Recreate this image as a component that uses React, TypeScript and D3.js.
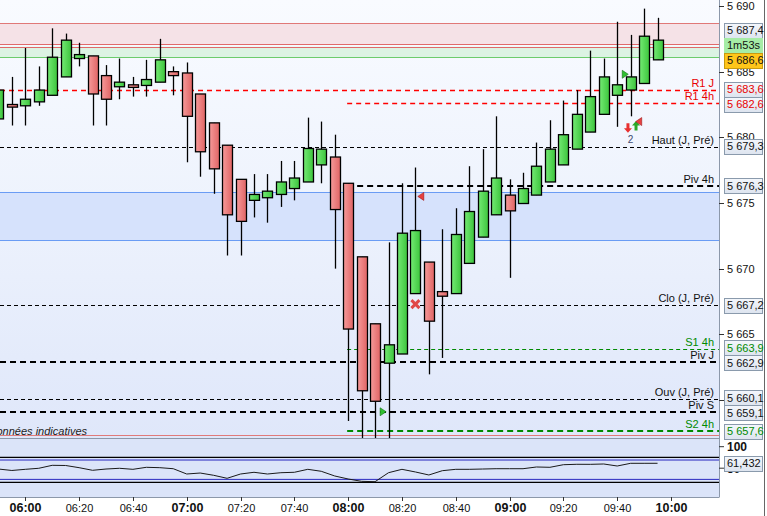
import { useEffect, useRef } from "react";
import * as d3 from "d3";

// 5-minute candles
const times = [
  "05:50", "05:55", "06:00", "06:05", "06:10", "06:15", "06:20", "06:25", "06:30", "06:35",
  "06:40", "06:45", "06:50", "06:55", "07:00", "07:05", "07:10", "07:15", "07:20", "07:25",
  "07:30", "07:35", "07:40", "07:45", "07:50", "07:55", "08:00", "08:05", "08:10", "08:15",
  "08:20", "08:25", "08:30", "08:35", "08:40", "08:45", "08:50", "08:55", "09:00", "09:05",
  "09:10", "09:15", "09:20", "09:25", "09:30", "09:35", "09:40", "09:45", "09:50", "09:55",
];
const opens = [
  5681.4, 5682.5, 5682.4, 5682.7, 5683.2, 5684.6, 5686.0, 5686.2, 5684.7, 5683.85,
  5684.0, 5683.95, 5684.2, 5685.0, 5684.9, 5683.3, 5681.1, 5679.4, 5676.8, 5675.2,
  5675.4, 5675.65, 5676.1, 5676.6, 5677.9, 5678.5, 5676.5, 5670.9, 5665.8, 5662.8,
  5663.5, 5668.1, 5670.5, 5668.25, 5668.1, 5670.4, 5672.4, 5674.1, 5675.6, 5674.96,
  5675.6, 5676.6, 5677.9, 5679.1, 5680.4, 5681.75, 5683.2, 5683.6, 5684.1, 5685.9,
];
const highs = [
  5683.9, 5684.6, 5686.8, 5685.4, 5688.3, 5687.9, 5687.2, 5686.2, 5685.5, 5686.0,
  5684.6, 5685.9, 5687.5, 5685.4, 5685.7, 5683.3, 5681.1, 5679.4, 5676.8, 5677.2,
  5677.2, 5678.2, 5678.2, 5681.5, 5681.2, 5680.2, 5676.5, 5670.9, 5665.8, 5672.0,
  5676.5, 5677.7, 5670.5, 5673.0, 5674.6, 5677.8, 5679.1, 5681.6, 5676.8, 5677.3,
  5679.6, 5681.3, 5682.8, 5683.6, 5686.6, 5686.0, 5688.8, 5687.8, 5689.8, 5689.1,
];
const lows = [
  5681.0, 5680.9, 5680.9, 5682.4, 5683.2, 5684.6, 5685.4, 5680.9, 5680.9, 5682.9,
  5683.1, 5683.1, 5684.2, 5683.2, 5678.1, 5677.0, 5675.7, 5671.0, 5671.0, 5673.9,
  5673.5, 5674.7, 5675.2, 5676.6, 5676.5, 5670.0, 5658.4, 5656.5, 5656.5, 5656.5,
  5663.5, 5668.1, 5661.95, 5663.2, 5668.1, 5670.4, 5672.4, 5674.1, 5669.3, 5674.96,
  5675.6, 5676.6, 5677.9, 5679.1, 5680.4, 5681.75, 5680.8, 5681.6, 5684.1, 5685.9,
];
const closes = [
  5683.6, 5682.3, 5682.9, 5683.6, 5686.1, 5687.4, 5686.3, 5683.3, 5682.9, 5684.2,
  5683.8, 5684.4, 5685.9, 5684.7, 5681.6, 5678.9, 5677.6, 5674.1, 5673.6, 5675.65,
  5675.9, 5676.6, 5676.9, 5679.15, 5679.1, 5674.5, 5665.4, 5660.7, 5659.9, 5664.2,
  5672.7, 5672.9, 5666.0, 5667.9, 5672.6, 5674.35, 5675.9, 5676.9, 5674.4, 5676.1,
  5677.8, 5679.1, 5680.2, 5681.75, 5683.1, 5684.6, 5684.0, 5684.6, 5687.7, 5687.4,
];

// oscillator in the lower pane
const oscValues = [
  48.1, 44.7, 47.4, 49.8, 56.7, 56.3, 51.2, 45.1, 48.1, 49.8,
  47.4, 52.1, 51.2, 48.8, 36.5, 38.8, 33.5, 26.5, 36.5, 40.5,
  36.5, 39.5, 40.5, 47.4, 42.8, 31.9, 24.9, 19.5, 18.6, 39.5,
  47.4, 41.2, 34.2, 44.2, 47.4, 47.4, 48.1, 48.8, 48.8, 48.8,
  52.8, 52.1, 58.1, 59.1, 59.0, 59.8, 55.1, 61.4, 61.4, 61.432,
];
const oscOuterLevels = [75, 17];
const oscInnerLevels = [69, 24];
const oscTicks = [50, 100];

// pivot / session levels
const levelLabels = ["R1 J", "R1 4h", "Haut (J, Pré)", "Piv 4h", "Clo (J, Pré)", "S1 4h", "Piv J", "Ouv (J, Pré)", "Piv S", "S2 4h"];
const levelValues = [5683.6, 5682.6, 5679.3, 5676.3, 5667.2, 5663.9, 5662.9, 5660.1, 5659.1, 5657.6];
const levelSince = [null, "08:00", null, "08:00", null, "08:00", null, null, null, "08:00"];

const resistZone = [5688.7, 5687.1];
const supportZone = [5686.9, 5686.1];
const blueZone = [5675.8, 5672.15];
const lowLine = 5657.3;

const lastPrice = 5687.4;
const otherPrice = 5686.6;
const countdown = "1m53s";

const priceTicks = [5660, 5665, 5670, 5675, 5680, 5685, 5690];
const timeTicks = ["06:00", "06:20", "06:40", "07:00", "07:20", "07:40", "08:00", "08:20", "08:40", "09:00", "09:20", "09:40", "10:00"];

const markerTimes = ["08:27", "08:25", "08:13", "09:43", "09:44", "09:47", "09:48"];
const markerPrices = [5675.5, 5667.3, 5659.1, 5684.8, 5680.7, 5680.9, 5681.2];
const markerKinds = ["triLeftRed", "cross", "triRightGreen", "triRightGreen", "arrowDown", "arrowUp", "triLeftRed"];

const LEVEL_STYLE: Record<string, { color: string; text: string; width: number; dash: string }> = {
  "R1 J": { color: "#ff0000", text: "#e80000", width: 1.3, dash: "5,4" },
  "R1 4h": { color: "#ff0000", text: "#e80000", width: 1.3, dash: "5,4" },
  "Haut (J, Pré)": { color: "#000", text: "#111", width: 1, dash: "4,3" },
  "Piv 4h": { color: "#000", text: "#111", width: 2, dash: "6,4" },
  "Clo (J, Pré)": { color: "#000", text: "#111", width: 1, dash: "4,3" },
  "S1 4h": { color: "#008a00", text: "#008a00", width: 1, dash: "4,3" },
  "Piv J": { color: "#000", text: "#111", width: 2, dash: "6,4" },
  "Ouv (J, Pré)": { color: "#000", text: "#111", width: 1, dash: "4,3" },
  "Piv S": { color: "#000", text: "#111", width: 2, dash: "6,4" },
  "S2 4h": { color: "#008a00", text: "#008a00", width: 2, dash: "6,4" },
};

const W = 767;
const H = 516;
const PLOT_R = 719;
const PRICE_B = 438;
const OSC_B = 497;
const FONT = "'Liberation Sans', Arial, sans-serif";

const toMin = (t: string) => {
  const [h, m] = t.split(":").map(Number);
  return h * 60 + m;
};
const fmt = (v: number) => {
  const s = v.toFixed(1).replace(".", ",");
  return s.replace(/^(\d)(\d{3})/, "$1 $2");
};

export default function App() {
  const svgRef = useRef<SVGSVGElement>(null);

  useEffect(() => {
    if (!svgRef.current) return;
    const svg = d3.select(svgRef.current);
    svg.selectAll("*").remove();

    const x = d3.scaleLinear().domain([360, 600]).range([25.3, 671]);
    const y = d3.scaleLinear().domain([5665, 5690]).range([334.3, 6]);
    const yo = d3.scaleLinear().domain([0, 100]).range([489.7, 446.7]);

    const defs = svg.append("defs");
    const bg = defs.append("linearGradient").attr("id", "bg").attr("x1", 0).attr("x2", 0).attr("y1", 0).attr("y2", 1);
    bg.append("stop").attr("offset", "0").attr("stop-color", "#f9fbff");
    bg.append("stop").attr("offset", "0.45").attr("stop-color", "#eef3fd");
    bg.append("stop").attr("offset", "1").attr("stop-color", "#dfe7fa");
    const gUp = defs.append("linearGradient").attr("id", "up");
    gUp.append("stop").attr("offset", "0").attr("stop-color", "#74ea74");
    gUp.append("stop").attr("offset", "1").attr("stop-color", "#3cc43c");
    const gDn = defs.append("linearGradient").attr("id", "dn");
    gDn.append("stop").attr("offset", "0").attr("stop-color", "#f69a9a");
    gDn.append("stop").attr("offset", "1").attr("stop-color", "#e06464");
    const gBox = defs.append("linearGradient").attr("id", "box").attr("x1", 0).attr("x2", 0).attr("y1", 0).attr("y2", 1);
    gBox.append("stop").attr("offset", "0").attr("stop-color", "#f4f7fc");
    gBox.append("stop").attr("offset", "1").attr("stop-color", "#dde4ef");
    defs.append("clipPath").attr("id", "clipP").append("rect").attr("x", 0).attr("y", 0).attr("width", PLOT_R).attr("height", PRICE_B);
    defs.append("clipPath").attr("id", "clipO").append("rect").attr("x", 0).attr("y", PRICE_B).attr("width", PLOT_R).attr("height", OSC_B - PRICE_B);

    svg.append("rect").attr("width", W).attr("height", H).attr("fill", "#fff");

    // price pane
    const p = svg.append("g").attr("clip-path", "url(#clipP)");
    p.append("rect").attr("width", PLOT_R).attr("height", PRICE_B).attr("fill", "url(#bg)");

    const band = (lo: number, hi: number, fill: string) =>
      p.append("rect").attr("x", 0).attr("width", PLOT_R).attr("y", y(hi)).attr("height", y(lo) - y(hi)).attr("fill", fill);
    const hline = (v: number, color: string, w = 1) =>
      p.append("line").attr("x1", 0).attr("x2", PLOT_R).attr("y1", Math.round(y(v)) + 0.5).attr("y2", Math.round(y(v)) + 0.5)
        .attr("stroke", color).attr("stroke-width", w);

    band(blueZone[1], blueZone[0], "#d6e2fc");
    hline(blueZone[0], "#6a9cf4");
    hline(blueZone[1], "#6a9cf4");
    band(resistZone[1], resistZone[0], "#f5e2e7");
    band(supportZone[1], supportZone[0], "#dcf3e3");
    hline(resistZone[0], "#e07878");
    hline(resistZone[1], "#e06a6a");
    hline(supportZone[0], "#e06a6a");
    hline(supportZone[1], "#6ccc6c");
    hline(lowLine, "#e07a7a");

    levelLabels.forEach((name, i) => {
      const st = LEVEL_STYLE[name];
      const since = levelSince[i];
      const x0 = since ? x(toMin(since)) - 1 : 0;
      const yy = Math.round(y(levelValues[i])) + (st.width === 2 ? 0 : 0.5);
      p.append("line").attr("x1", x0).attr("x2", PLOT_R).attr("y1", yy).attr("y2", yy)
        .attr("stroke", st.color).attr("stroke-width", st.width).attr("stroke-dasharray", st.dash);
    });

    // candles
    const bw = 10;
    times.forEach((t, i) => {
      const cx = Math.round(x(toMin(t))) + 0.5;
      const o = opens[i], c = closes[i];
      const up = c >= o;
      p.append("line").attr("x1", cx).attr("x2", cx).attr("y1", y(highs[i])).attr("y2", y(lows[i]))
        .attr("stroke", "#000").attr("stroke-width", 1.3);
      const top = y(Math.max(o, c));
      const h = Math.max(2, y(Math.min(o, c)) - top);
      p.append("rect").attr("x", cx - bw / 2).attr("y", top).attr("width", bw).attr("height", h)
        .attr("fill", up ? "url(#up)" : "url(#dn)").attr("stroke", "#000").attr("stroke-width", 1.3);
    });

    // signal markers
    markerKinds.forEach((k, i) => {
      const mx = x(toMin(markerTimes[i]));
      const my = y(markerPrices[i]);
      const g = p.append("g").attr("transform", `translate(${mx},${my})`);
      if (k === "triLeftRed") g.append("path").attr("d", "M3,-4L3,4L-3,0Z").attr("fill", "#e84040").attr("stroke", "#a01818").attr("stroke-width", 0.6);
      if (k === "triRightGreen") g.append("path").attr("d", "M-3,-4L-3,4L3,0Z").attr("fill", "#30c030").attr("stroke", "#107010").attr("stroke-width", 0.6);
      if (k === "cross") {
        g.append("path").attr("d", "M-4,-4L4,4M4,-4L-4,4").attr("stroke", "#e04848").attr("stroke-width", 3);
      }
      if (k === "arrowDown") g.append("path").attr("d", "M-1.5,-5L1.5,-5L1.5,0L4,0L0,4.5L-4,0L-1.5,0Z").attr("fill", "#e83030");
      if (k === "arrowUp") g.append("path").attr("d", "M-1.5,5L1.5,5L1.5,0L4,0L0,-4.5L-4,0L-1.5,0Z").attr("fill", "#28a828");
    });
    p.append("text").attr("x", x(toMin("09:45"))).attr("y", y(5679.6)).attr("text-anchor", "middle")
      .attr("font-family", FONT).attr("font-size", 10).attr("fill", "#404a70").text("2");

    // level captions
    levelLabels.forEach((name, i) => {
      p.append("text").attr("x", 714).attr("y", y(levelValues[i]) - 3).attr("text-anchor", "end")
        .attr("font-family", FONT).attr("font-size", 11).attr("fill", LEVEL_STYLE[name].text).text(name);
    });
    p.append("text").attr("x", 87).attr("y", 435).attr("text-anchor", "end").attr("font-style", "italic")
      .attr("font-family", FONT).attr("font-size", 11).attr("fill", "#222").text("Données indicatives");

    // oscillator pane
    const o = svg.append("g").attr("clip-path", "url(#clipO)");
    o.append("rect").attr("x", 0).attr("y", PRICE_B).attr("width", PLOT_R).attr("height", OSC_B - PRICE_B).attr("fill", "#dbe4f9");
    oscOuterLevels.forEach((v) => {
      o.append("line").attr("x1", 0).attr("x2", PLOT_R).attr("y1", yo(v)).attr("y2", yo(v)).attr("stroke", "#000").attr("stroke-width", 1.2);
    });
    oscInnerLevels.forEach((v) => {
      o.append("line").attr("x1", 0).attr("x2", PLOT_R).attr("y1", yo(v)).attr("y2", yo(v)).attr("stroke", "#2828c0").attr("stroke-width", 1);
    });
    const line = d3.line<number>().x((_, i) => x(toMin(times[i]))).y((d) => yo(d));
    o.append("path").attr("d", line(oscValues)).attr("fill", "none").attr("stroke", "#1a1a1a").attr("stroke-width", 1);

    // frames
    svg.append("line").attr("x1", 0).attr("x2", PLOT_R).attr("y1", PRICE_B + 0.5).attr("y2", PRICE_B + 0.5).attr("stroke", "#8c98aa");
    svg.append("line").attr("x1", 0).attr("x2", PLOT_R + 0.5).attr("y1", OSC_B + 0.5).attr("y2", OSC_B + 0.5).attr("stroke", "#8c98aa");
    svg.append("line").attr("x1", PLOT_R + 0.5).attr("x2", PLOT_R + 0.5).attr("y1", 0).attr("y2", OSC_B).attr("stroke", "#8c98aa");
    svg.append("line").attr("x1", 764.5).attr("x2", 764.5).attr("y1", 0).attr("y2", H).attr("stroke", "#666");

    // price axis
    const axis = svg.append("g");
    priceTicks.forEach((v) => {
      const yy = Math.round(y(v)) + 0.5;
      axis.append("line").attr("x1", PLOT_R).attr("x2", 724).attr("y1", yy).attr("y2", yy).attr("stroke", "#333");
      axis.append("text").attr("x", 727).attr("y", yy).attr("dy", "0.36em").attr("font-family", FONT).attr("font-size", 11).attr("fill", "#111").text(fmt(v).replace(",0", ""));
    });
    oscTicks.forEach((v) => {
      axis.append("line").attr("x1", PLOT_R).attr("x2", 724).attr("y1", yo(v)).attr("y2", yo(v)).attr("stroke", "#333");
      axis.append("text").attr("x", 727).attr("y", yo(v)).attr("dy", "0.36em").attr("font-family", FONT).attr("font-size", 12)
        .attr("font-weight", "bold").attr("fill", "#111").text(String(v));
    });

    const box = (cy: number, label: string, color: string, fill = "url(#box)", stroke = "#8a9aac") => {
      axis.append("rect").attr("x", 724.5).attr("y", Math.round(cy - 7.5) + 0.5).attr("width", 38).attr("height", 15)
        .attr("fill", fill).attr("stroke", stroke);
      axis.append("text").attr("x", 727).attr("y", cy).attr("dy", "0.36em").attr("font-family", FONT).attr("font-size", 11)
        .attr("fill", color).text(label);
    };

    // level boxes, pushed apart where they would overlap
    const ys = levelValues.map((v) => y(v));
    for (let it = 0; it < 20; it++) {
      for (let i = 1; i < ys.length; i++) {
        const gap = ys[i] - ys[i - 1];
        if (gap < 15) {
          const d = (15 - gap) / 2;
          ys[i - 1] -= d;
          ys[i] += d;
        }
      }
    }
    levelLabels.forEach((name, i) => box(ys[i], fmt(levelValues[i]), LEVEL_STYLE[name].text));

    const mid = (y(lastPrice) + y(otherPrice)) / 2;
    box(mid - 15, fmt(lastPrice), "#111");
    box(mid, countdown, "#111", "#a6eca6", "#a6eca6");
    box(mid + 15, fmt(otherPrice), "#111", "#ffc61a", "#c89a10");
    box(yo(oscValues[oscValues.length - 1]), oscValues[oscValues.length - 1].toFixed(3).replace(".", ","), "#111");

    // time axis
    timeTicks.forEach((t) => {
      const tx = Math.round(x(toMin(t))) + 0.5;
      const hour = t.endsWith(":00");
      axis.append("line").attr("x1", tx).attr("x2", tx).attr("y1", OSC_B).attr("y2", OSC_B + 4).attr("stroke", "#333");
      axis.append("text").attr("x", tx).attr("y", 512).attr("text-anchor", "middle").attr("font-family", FONT)
        .attr("font-size", hour ? 12.5 : 11).attr("font-weight", hour ? "bold" : "normal").attr("fill", "#111").text(t);
    });
  }, []);

  return <svg ref={svgRef} width={W} height={H} style={{ position: "absolute", left: 0, top: 0 }} />;
}
